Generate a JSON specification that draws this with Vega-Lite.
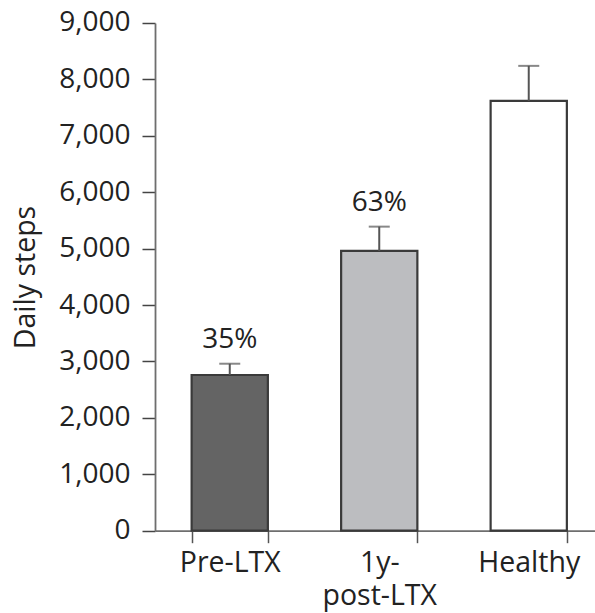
{
  "$schema": "https://vega.github.io/schema/vega-lite/v6.json",
  "autosize": {"type": "none"},
  "padding": {"left": 155, "top": 23, "right": 0, "bottom": 90},
  "width": 448.5,
  "height": 507.7,
  "background": "white",
  "config": {
    "view": {"stroke": null},
    "font": "Open Sans",
    "axis": {"labelFont": "Open Sans", "titleFont": "Open Sans", "labelColor": "#222222", "titleColor": "#222222", "grid": false}
  },
  "data": {
    "values": [
      {"group": "Pre-LTX", "mean": 2760, "hi": 2960, "pct": "35%"},
      {"group": "1y-post-LTX", "mean": 4960, "hi": 5390, "pct": "63%"},
      {"group": "Healthy", "mean": 7620, "hi": 8240, "pct": ""}
    ]
  },
  "encoding": {
    "x": {
      "field": "group", "type": "nominal", "sort": null,
      "scale": {"paddingInner": 0.49, "paddingOuter": 0.245},
      "axis": {
        "title": null, "labelAngle": 0, "labelFontSize": 28.5, "labelPadding": 6,
        "labelLineHeight": 33,
        "labelExpr": "datum.label == '1y-post-LTX' ? ['1y-', 'post-LTX'] : datum.label",
        "tickBand": "extent", "tickSize": 12, "tickColor": "#555555", "tickWidth": 1.5,
        "domainColor": "#6e6e6e", "domainWidth": 1.8
      }
    }
  },
  "layer": [
    {
      "mark": {"type": "bar", "stroke": "#3a3a3a", "strokeWidth": 2.2},
      "encoding": {
        "y": {
          "field": "mean", "type": "quantitative",
          "scale": {"domain": [0, 9000], "nice": false},
          "axis": {
            "title": "Daily steps", "titleFontSize": 28.5, "titleFontWeight": "normal",
            "titleAngle": 270, "titleX": -130, "titleY": 254, "titleAlign": "center", "titleBaseline": "middle",
            "values": [0, 1000, 2000, 3000, 4000, 5000, 6000, 7000, 8000, 9000],
            "format": ",.0f", "labelFontSize": 28, "labelPadding": 12,
            "tickSize": 13, "tickColor": "#444444", "tickWidth": 1.5,
            "domainColor": "#6e6e6e", "domainWidth": 1.8
          }
        },
        "fill": {
          "field": "group", "type": "nominal",
          "scale": {"domain": ["Pre-LTX", "1y-post-LTX", "Healthy"], "range": ["#646464", "#bcbdc0", "#ffffff"]},
          "legend": null
        }
      }
    },
    {
      "mark": {"type": "rule", "color": "#555555", "strokeWidth": 2},
      "encoding": {
        "y": {"field": "mean", "type": "quantitative"},
        "y2": {"field": "hi"}
      }
    },
    {
      "mark": {"type": "tick", "color": "#555555", "thickness": 2, "size": 21, "orient": "horizontal"},
      "encoding": {
        "y": {"field": "hi", "type": "quantitative"}
      }
    },
    {
      "mark": {"type": "text", "fontSize": 28, "color": "#222222", "baseline": "alphabetic", "dy": -16},
      "encoding": {
        "y": {"field": "hi", "type": "quantitative"},
        "text": {"field": "pct"}
      }
    }
  ]
}
